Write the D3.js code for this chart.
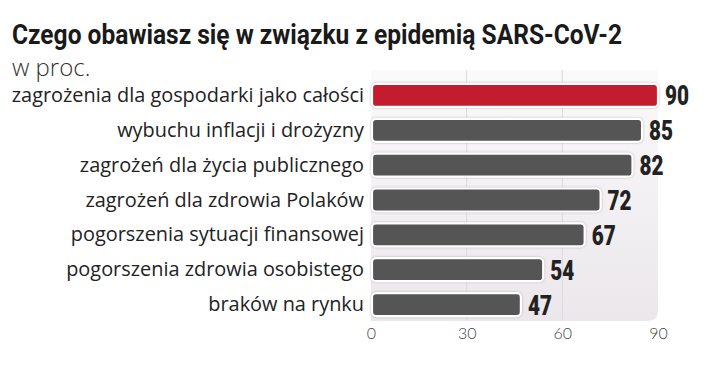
<!DOCTYPE html>
<html><head><meta charset="utf-8">
<script src="https://cdn.jsdelivr.net/npm/d3@7"></script>
<style>body{margin:0;background:#fff}svg{display:block}</style>
</head><body>
<svg id="c" width="720" height="390"></svg>
<script>
const categories = ["zagrożenia dla gospodarki jako całości","wybuchu inflacji i drożyzny","zagrożeń dla życia publicznego","zagrożeń dla zdrowia Polaków","pogorszenia sytuacji finansowej","pogorszenia zdrowia osobistego","braków na rynku"];
const values = [90,85,82,72,67,54,47];
const highlight = [true,false,false,false,false,false,false];
const ticks = [0,30,60,90];
const title = "Czego obawiasz się w związku z epidemią SARS-CoV-2";
const subtitle = "w proc.";

const svg = d3.select("#c");
const x = d3.scaleLinear().domain([0,90]).range([371,658]);
const y = d3.scaleBand().domain(categories).range([78,322]).paddingInner(0.34).paddingOuter(0.17);

const defs = svg.append("defs");
const g = defs.append("linearGradient").attr("id","bg").attr("x1",0).attr("y1",0).attr("x2",0).attr("y2",1);
g.append("stop").attr("offset","0%").attr("stop-color","#fbfafb");
g.append("stop").attr("offset","100%").attr("stop-color","#ebe7eb");
const f = defs.append("filter").attr("id","sh").attr("x","-5%").attr("y","-30%").attr("width","110%").attr("height","160%");
f.append("feDropShadow").attr("dx",0).attr("dy",0).attr("stdDeviation",0.8).attr("flood-color","#999").attr("flood-opacity",0.7);

const px0 = x(0), px1 = x(90), py0 = 70, py1 = 321, r = 11;
svg.append("path")
  .attr("d",`M${px0},${py0}H${px1}V${py1-r}Q${px1},${py1} ${px1-r},${py1}H${px0}Z`)
  .attr("fill","url(#bg)");

svg.append("g").selectAll("line").data([30,60]).join("line")
  .attr("x1",d=>x(d)).attr("x2",d=>x(d)).attr("y1",py0).attr("y2",py1)
  .attr("stroke","#dcd8dc").attr("stroke-width",1);

svg.append("g").selectAll("rect").data(values).join("rect")
  .attr("x",x(0)+1).attr("y",(d,i)=>y(categories[i]))
  .attr("width",d=>x(d)-x(0)-1).attr("height",y.bandwidth())
  .attr("rx",4).attr("ry",4)
  .attr("fill",(d,i)=>highlight[i]?"#c31d2d":"#545457")
  .attr("stroke","#fff").attr("stroke-width",2.2)
  .attr("filter","url(#sh)");

svg.append("g").selectAll("text").data(values).join("text")
  .attr("transform",(d,i)=>`translate(${x(d)+7},${y(categories[i])+y.bandwidth()/2+10}) scale(0.74,1)`)
  .attr("font-family","Roboto,sans-serif")
  .attr("font-weight",900).attr("font-size",28).attr("fill","#222")
  .text(d=>d);

svg.append("g").selectAll("text").data(categories).join("text")
  .attr("x",364).attr("y",d=>y(d)+y.bandwidth()/2+6.5)
  .attr("text-anchor","end")
  .attr("font-family","'Open Sans',sans-serif").attr("font-weight",400)
  .attr("font-size",19.9).attr("fill","#222")
  .text(d=>d);

const ax = svg.append("g").attr("transform","translate(0,326)")
  .call(d3.axisBottom(x).tickValues(ticks).tickSize(0).tickPadding(0).tickFormat(d3.format("d")));
ax.select(".domain").remove();
ax.selectAll("text").attr("font-family","Lato,sans-serif").attr("font-weight",300).attr("font-size",16)
  .attr("fill","#444").attr("dy","0.8em");

svg.append("text").attr("x",12).attr("y",44)
  .attr("font-family","Roboto,sans-serif").attr("font-weight",700)
  .attr("font-size",27).attr("fill","#1a1a1a")
  .attr("textLength",610).attr("lengthAdjust","spacingAndGlyphs")
  .text(title);
svg.append("text").attr("x",12).attr("y",76)
  .attr("font-family","'Open Sans',sans-serif").attr("font-weight",300)
  .attr("font-size",24).attr("fill","#333").text(subtitle);
</script>
</body></html>
